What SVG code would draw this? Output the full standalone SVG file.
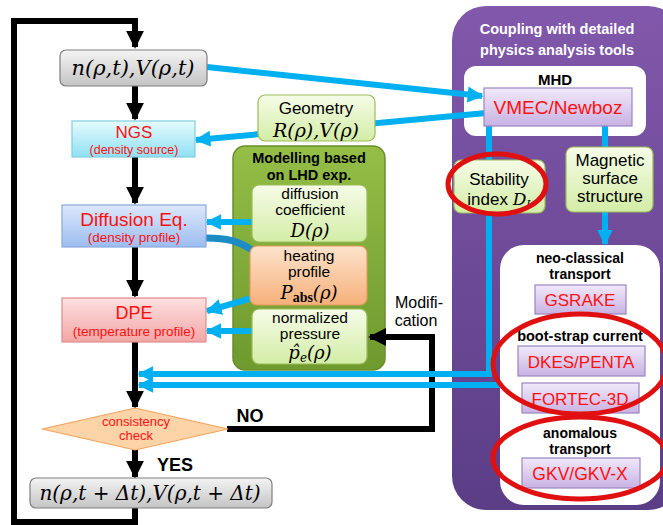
<svg xmlns="http://www.w3.org/2000/svg" width="663" height="525" viewBox="0 0 663 525">
<defs>
<linearGradient id="gGray" x1="0" y1="0" x2="0" y2="1"><stop offset="0" stop-color="#f4f4f4"/><stop offset="1" stop-color="#c4c4c4"/></linearGradient>
<linearGradient id="gCyan" x1="0" y1="0" x2="0" y2="1"><stop offset="0" stop-color="#e6fbff"/><stop offset="1" stop-color="#8fe0f3"/></linearGradient>
<linearGradient id="gBlue" x1="0" y1="0" x2="0" y2="1"><stop offset="0" stop-color="#dde8fb"/><stop offset="1" stop-color="#9cbcf0"/></linearGradient>
<linearGradient id="gRed" x1="0" y1="0" x2="0" y2="1"><stop offset="0" stop-color="#fde0e0"/><stop offset="1" stop-color="#f3a6a6"/></linearGradient>
<linearGradient id="gLGreen" x1="0" y1="0" x2="0" y2="1"><stop offset="0" stop-color="#f6fce8"/><stop offset="1" stop-color="#d3eda6"/></linearGradient>
<linearGradient id="gOrange" x1="0" y1="0" x2="0" y2="1"><stop offset="0" stop-color="#fde3cc"/><stop offset="1" stop-color="#f7b07a"/></linearGradient>
<linearGradient id="gLav" x1="0" y1="0" x2="0" y2="1"><stop offset="0" stop-color="#f1e9fa"/><stop offset="1" stop-color="#c8b2e3"/></linearGradient>
<linearGradient id="gPurple" x1="0" y1="0" x2="0" y2="1"><stop offset="0" stop-color="#8158ab"/><stop offset="1" stop-color="#5b3d86"/></linearGradient>
<linearGradient id="gGreen" x1="0" y1="0" x2="0" y2="1"><stop offset="0" stop-color="#94be46"/><stop offset="1" stop-color="#6e9a2e"/></linearGradient>
<marker id="ab" viewBox="0 0 10 10" refX="9" refY="5" markerUnits="userSpaceOnUse" markerWidth="18" markerHeight="18" orient="auto"><path d="M0,0 L10,5 L0,10 Z" fill="#000"/></marker>
<marker id="ac" viewBox="0 0 10 10" refX="9" refY="5" markerUnits="userSpaceOnUse" markerWidth="16" markerHeight="18" orient="auto"><path d="M0,0 L10,5 L0,10 Z" fill="#00b0f0"/></marker>
</defs>
<style>
.t{font-family:"Liberation Sans",Arial,sans-serif;text-anchor:middle}
.m{font-family:"DejaVu Serif","Liberation Serif",serif;font-style:italic;text-anchor:middle}
.red{fill:#ff1010}
.b{font-weight:bold}
.w{fill:#fff}
.k{stroke:#000;stroke-width:6;fill:none}
.c{stroke:#00b0f0;stroke-width:6;fill:none}
.ell{fill:none;stroke:#e01010;stroke-width:5}
.lg{fill:url(#gLGreen);stroke:#9bbb59;stroke-width:1.2}
.lav{fill:url(#gLav);stroke:#9c84c0;stroke-width:1.2}
</style>

<g id="panel-coupling">
<rect x="452" y="6" width="230" height="504" rx="34" fill="url(#gPurple)"/>
<text class="t b w" x="557" y="34" font-size="14.5">Coupling with detailed</text>
<text class="t b w" x="557" y="55" font-size="14.5">physics analysis tools</text>
</g>
<g id="mhd-box">
<rect x="464" y="66" width="182" height="70" rx="12" fill="#fff"/>
<text class="t b" x="555" y="85" font-size="15">MHD</text>
</g>
<g id="transport-box">
<rect x="500" y="245" width="160" height="260" rx="24" fill="#fff"/>
<text class="t b" x="580" y="263" font-size="14">neo-classical</text>
<text class="t b" x="580" y="279" font-size="14">transport</text>
<text class="t b" x="580" y="341" font-size="14.5">boot-strap current</text>
<text class="t b" x="580" y="438" font-size="14">anomalous</text>
<text class="t b" x="580" y="454" font-size="14">transport</text>
</g>
<g id="modelling-box">
<rect x="233" y="146" width="152" height="224" rx="12" fill="url(#gGreen)" stroke="#6a8d2c" stroke-width="1.5"/>
<text class="t b" x="309" y="163" font-size="14.5">Modelling based</text>
<text class="t b" x="309" y="180" font-size="14.5">on LHD exp.</text>
</g>

<g id="connectors">
<polyline class="k" points="135,508 135,522 14,522 14,21 135,21 135,30"/>
<line class="k" x1="135" y1="21" x2="135" y2="47" marker-end="url(#ab)"/>
<line class="k" x1="135" y1="86" x2="135" y2="119" marker-end="url(#ab)"/>
<line class="k" x1="135" y1="157" x2="135" y2="203" marker-end="url(#ab)"/>
<line class="k" x1="135" y1="247" x2="135" y2="296" marker-end="url(#ab)"/>
<line class="k" x1="135" y1="342" x2="135" y2="407" marker-end="url(#ab)"/>
<line class="k" x1="135" y1="450" x2="135" y2="477" marker-end="url(#ab)"/>
<polyline class="k" points="227,429 432,429 432,337 385,337"/>
<line class="k" x1="432" y1="337" x2="370" y2="337" marker-end="url(#ab)"/>
<line class="c" x1="207" y1="67" x2="482" y2="96" marker-end="url(#ac)"/>
<line class="c" x1="486" y1="113" x2="196" y2="140" marker-end="url(#ac)"/>
<line class="c" x1="252" y1="222" x2="207" y2="222" marker-end="url(#ac)"/>
<path d="M206,238 C228,238 238,241 252,250" stroke="#1e8cc4" stroke-width="7" fill="none"/>
<line class="c" x1="252" y1="298" x2="207" y2="311" marker-end="url(#ac)"/>
<line class="c" x1="252" y1="331" x2="207" y2="331" marker-end="url(#ac)"/>
<polyline class="c" points="489,126 489,374 160,374"/>
<line class="c" x1="170" y1="374" x2="139" y2="374" marker-end="url(#ac)"/>
<polyline class="c" points="500,385 160,385"/>
<line class="c" x1="170" y1="385" x2="139" y2="385" marker-end="url(#ac)"/>
<line class="c" x1="605" y1="126" x2="605" y2="148"/>
<line class="c" x1="605" y1="212" x2="605" y2="244" marker-end="url(#ac)"/>
</g>

<g id="n-t">
<rect x="60" y="50" width="147" height="36" rx="6" fill="url(#gGray)" stroke="#7f7f7f" stroke-width="1.2"/>
<text class="m" x="133" y="75" font-size="21">n(ρ,t),V(ρ,t)</text>
</g>
<g id="ngs">
<rect x="72" y="121" width="123" height="36" fill="url(#gCyan)" stroke="#7fcfe0" stroke-width="1.2"/>
<text class="t red" x="134" y="138" font-size="17">NGS</text>
<text class="t red" x="134" y="154" font-size="12.5">(density source)</text>
</g>
<g id="diffusion-eq">
<rect x="62" y="205" width="144" height="42" fill="url(#gBlue)" stroke="#8aa8dc" stroke-width="1.2"/>
<text class="t red" x="134" y="226" font-size="19">Diffusion Eq.</text>
<text class="t red" x="134" y="242" font-size="13.5">(density profile)</text>
</g>
<g id="dpe">
<rect x="62" y="298" width="144" height="44" fill="url(#gRed)" stroke="#e08c8c" stroke-width="1.2"/>
<text class="t red" x="134" y="319" font-size="18">DPE</text>
<text class="t red" x="134" y="336" font-size="13.5">(temperature profile)</text>
</g>
<g id="consistency-check">
<polygon points="42,429 135,408 228,429 135,450" fill="#fdd3a8" stroke="#f5a35a" stroke-width="1.2"/>
<text class="t red" x="136" y="426" font-size="13">consistency</text>
<text class="t red" x="136" y="440" font-size="13">check</text>
</g>
<g id="labels">
<text class="t b" x="250" y="422" font-size="18">NO</text>
<text class="t b" x="175" y="471" font-size="18">YES</text>
<text class="t" x="419" y="308" font-size="16">Modifi-</text>
<text class="t" x="416" y="326" font-size="16">cation</text>
</g>
<g id="n-t-dt">
<rect x="30" y="478" width="242" height="30" rx="6" fill="url(#gGray)" stroke="#7f7f7f" stroke-width="1.2"/>
<text class="m" x="150" y="500" font-size="20">n(ρ,t + Δt),V(ρ,t + Δt)</text>
</g>
<g id="geometry">
<rect x="258" y="95" width="117" height="46" rx="7" class="lg"/>
<text class="t" x="316" y="114" font-size="17">Geometry</text>
<text class="m" x="316" y="137" font-size="19">R(ρ),V(ρ)</text>
</g>
<g id="diffusion-coefficient">
<rect x="252" y="185" width="115" height="57" rx="7" class="lg"/>
<text class="t" x="310" y="199" font-size="15.5">diffusion</text>
<text class="t" x="310" y="215" font-size="15.5">coefficient</text>
<text class="m" x="310" y="237" font-size="18">D(ρ)</text>
</g>
<g id="heating-profile">
<rect x="250" y="246" width="117" height="59" rx="7" fill="url(#gOrange)" stroke="#e69a5e" stroke-width="1.2"/>
<text class="t" x="309" y="261" font-size="15.5">heating</text>
<text class="t" x="309" y="277" font-size="15.5">profile</text>
<text class="m" x="309" y="299" font-size="18">P<tspan font-family="Liberation Serif,serif" font-style="normal" font-weight="bold" font-size="14" dy="3">abs</tspan><tspan dy="-3">(ρ)</tspan></text>
</g>
<g id="normalized-pressure">
<rect x="252" y="309" width="115" height="55" rx="7" class="lg"/>
<text class="t" x="310" y="323" font-size="15.5">normalized</text>
<text class="t" x="310" y="339" font-size="15.5">pressure</text>
<text class="m" x="310" y="359" font-size="18">p̂<tspan font-size="12" dy="3">e</tspan><tspan dy="-3">(ρ)</tspan></text>
</g>
<g id="vmec">
<rect x="484" y="88" width="148" height="38" class="lav"/>
<text class="t red" x="558" y="114" font-size="19">VMEC/Newboz</text>
</g>
<g id="stability-index">
<rect x="454" y="160" width="91" height="53" rx="7" class="lg"/>
<text class="t" x="499" y="185" font-size="17">Stability</text>
<text class="t" x="499" y="205" font-size="17">index <tspan font-family="DejaVu Serif,serif" font-style="italic">D<tspan font-size="11" dy="3">I</tspan></tspan></text>
<ellipse cx="497" cy="184" rx="49" ry="30" class="ell"/>
</g>
<g id="magnetic-surface">
<rect x="566" y="147" width="87" height="65" rx="7" class="lg"/>
<text class="t" x="610" y="166" font-size="17">Magnetic</text>
<text class="t" x="610" y="184" font-size="17">surface</text>
<text class="t" x="610" y="202" font-size="17">structure</text>
</g>
<g id="gsrake">
<rect x="535" y="285" width="91" height="29" class="lav"/>
<text class="t red" x="580" y="306" font-size="17">GSRAKE</text>
</g>
<g id="dkes-penta">
<rect x="518" y="346" width="127" height="30" class="lav"/>
<text class="t red" x="581" y="368" font-size="17">DKES/PENTA</text>
</g>
<g id="fortec-3d">
<rect x="522" y="383" width="117" height="30" class="lav"/>
<text class="t red" x="580" y="405" font-size="17">FORTEC-3D</text>
</g>
<g id="gkv">
<rect x="522" y="458" width="118" height="30" class="lav"/>
<text class="t red" x="580" y="480" font-size="17.5">GKV/GKV-X</text>
</g>
<g id="highlights">
<ellipse cx="580" cy="364" rx="87" ry="50" class="ell"/>
<ellipse cx="580" cy="458" rx="87" ry="41" class="ell"/>
</g>
</svg>
